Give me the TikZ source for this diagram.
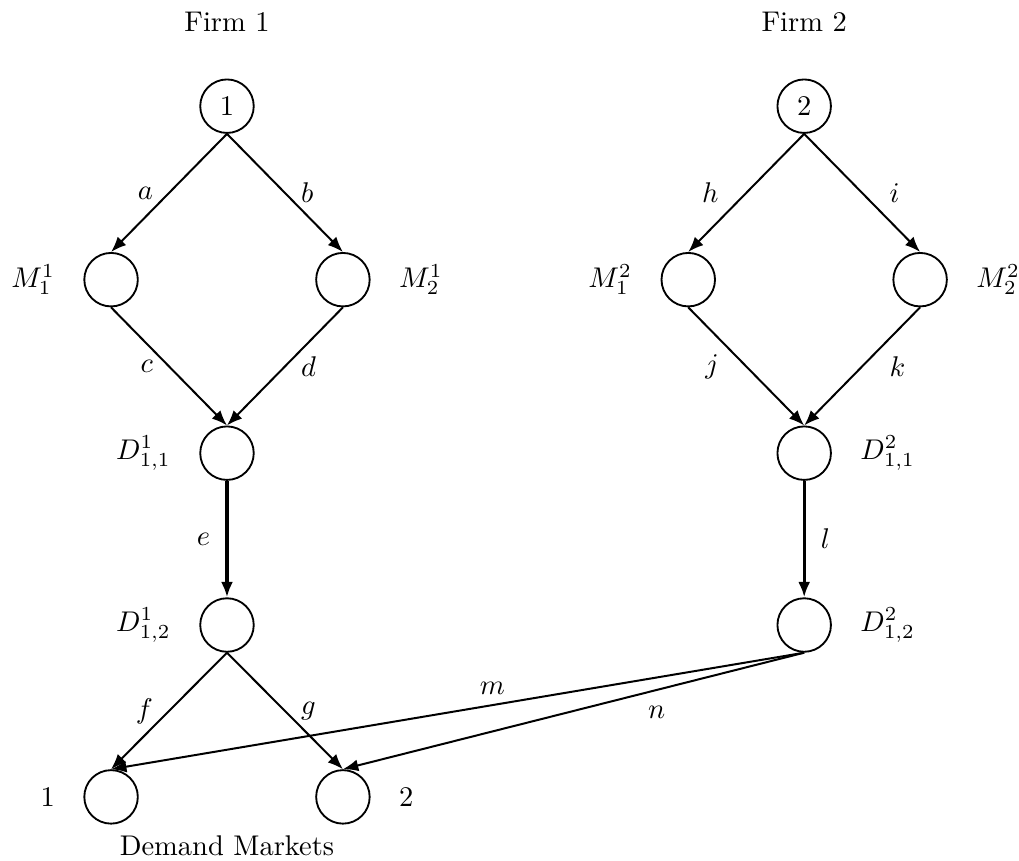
\documentclass[tikz,border=0pt]{standalone}
\usepackage{amsmath}
\usepackage{tikz}
\usetikzlibrary{arrows.meta,positioning}

\begin{document}
\begin{tikzpicture}[
    nd/.style={draw,circle,minimum size=0.66cm,inner sep=0pt,line width=0.65pt},
    arr/.style={-{Latex[length=5.4pt,width=4.2pt]},line width=0.7pt},
    thk/.style={-{Latex[length=5.4pt,width=4.2pt]},line width=1.1pt},
    label distance=6.5pt]
    \useasboundingbox (0,0) rectangle (12.57,10.62);
    % firm 1
    \node at (2.80,10.35) {Firm 1};
    \node[nd] (one) at (2.80,9.31) {1};
    \node[nd,label=left:$M^1_1$] (m11) at (1.37,7.17) {};
    \node[nd,label=right:$M^1_2$] (m21) at (4.23,7.17) {};
    \node[nd,label=left:$D^1_{1,1}$] (d111) at (2.80,5.03) {};
    \node[nd,label=left:$D^1_{1,2}$] (d121) at (2.80,2.91) {};
    % firm 2
    \node at (9.92,10.35) {Firm 2};
    \node[nd] (two) at (9.92,9.31) {2};
    \node[nd,label=left:$M^2_1$] (m12) at (8.49,7.17) {};
    \node[nd,label=right:$M^2_2$] (m22) at (11.35,7.17) {};
    \node[nd,label=right:$D^2_{1,1}$] (d211) at (9.92,5.03) {};
    \node[nd,label=right:$D^2_{1,2}$] (d212) at (9.92,2.91) {};
    % demand markets
    \node[nd,label=left:1] (dm1) at (1.37,0.79) {};
    \node[nd,label=right:2] (dm2) at (4.23,0.79) {};
    \node at (2.80,0.19) {Demand Markets};
    % links of firm 1
    \draw[arr] (one.south) -- node[left=2pt] {$a$} (m11.north);
    \draw[arr] (one.south) -- node[right=2pt] {$b$} (m21.north);
    \draw[arr] (m11.south) -- node[left=2pt] {$c$} (d111.north);
    \draw[arr] (m21.south) -- node[right=2pt] {$d$} (d111.north);
    \draw[thk] (d111.south) -- node[left=2pt] {$e$} (d121.north);
    \draw[arr] (d121.south) -- node[left=2pt] {$f$} (dm1.north);
    \draw[arr] (d121.south) -- node[right=2pt] {$g$} (dm2.north);
    % links of firm 2
    \draw[arr] (two.south) -- node[left=6pt] {$h$} (m12.north);
    \draw[arr] (two.south) -- node[right=6pt] {$i$} (m22.north);
    \draw[arr] (m12.south) -- node[left=6pt] {$j$} (d211.north);
    \draw[arr] (m22.south) -- node[right=6pt] {$k$} (d211.north);
    \draw[thk] (d211.south) -- node[right=2pt] {$l$} (d212.north);
    \draw[arr] (d212.south) -- node[above,pos=0.45] {$m$} (dm1.north);
    \draw[arr] (d212.south) -- node[below=2pt,pos=0.32] {$n$} (dm2.north);
\end{tikzpicture}
\end{document}
